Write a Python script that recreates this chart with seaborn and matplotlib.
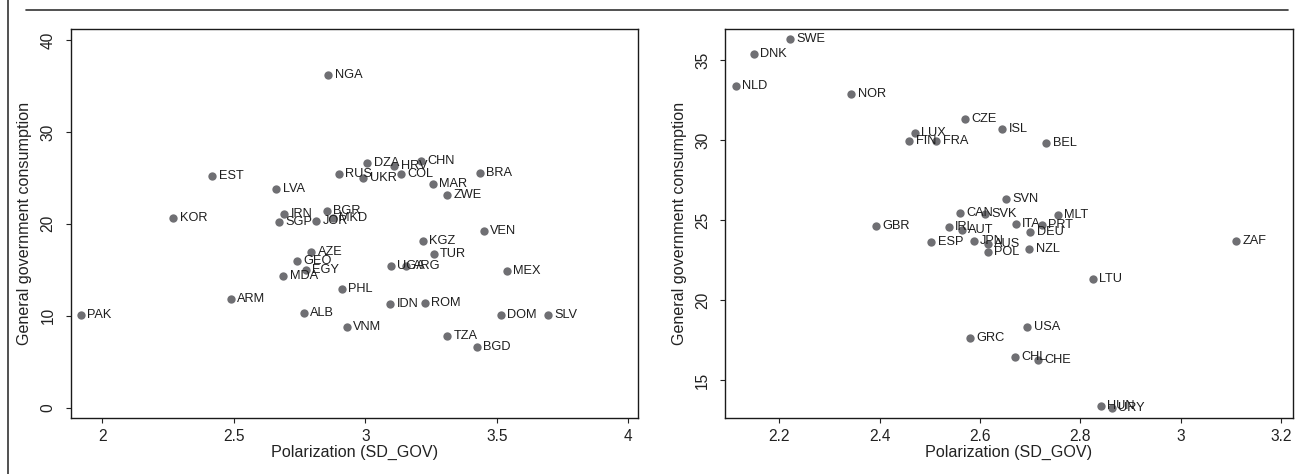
import pandas as pd
import seaborn as sns
import matplotlib.pyplot as plt
from matplotlib.lines import Line2D
from matplotlib.ticker import FormatStrFormatter

# left panel: non-OECD countries
dev_codes = ["PAK", "KOR", "EST", "ARM", "LVA", "SGP", "MDA", "IRN", "GEO", "ALB",
             "EGY", "AZE", "JOR", "BGR", "NGA", "MKD", "RUS", "PHL", "VNM", "UKR",
             "DZA", "IDN", "UGA", "HRV", "COL", "ARG", "CHN", "KGZ", "ROM", "MAR",
             "TUR", "ZWE", "TZA", "BGD", "BRA", "VEN", "DOM", "MEX", "SLV"]
dev_polar = [1.918, 2.270, 2.418, 2.488, 2.662, 2.672, 2.689, 2.691, 2.742, 2.766,
             2.774, 2.795, 2.814, 2.853, 2.860, 2.876, 2.899, 2.910, 2.929, 2.992,
             3.008, 3.095, 3.097, 3.110, 3.135, 3.156, 3.213, 3.218, 3.226, 3.256,
             3.260, 3.311, 3.312, 3.424, 3.435, 3.451, 3.515, 3.539, 3.693]
dev_gov = [10.13, 20.59, 25.24, 11.80, 23.79, 20.20, 14.35, 21.10, 16.01, 10.35,
           15.00, 16.93, 20.34, 21.43, 36.20, 20.59, 25.38, 12.90, 8.82, 25.02,
           26.60, 11.30, 15.40, 26.25, 25.42, 15.45, 26.80, 18.13, 11.44, 24.34,
           16.67, 23.14, 7.84, 6.65, 25.49, 19.25, 10.06, 14.89, 10.06]

# right panel: OECD countries
oecd_codes = ["NLD", "DNK", "SWE", "NOR", "GBR", "FIN", "LUX", "ESP", "FRA", "IRL",
              "CAN", "AUT", "CZE", "GRC", "JPN", "SVK", "AUS", "POL", "ISL", "SVN",
              "CHL", "ITA", "USA", "NZL", "DEU", "CHE", "PRT", "BEL", "MLT", "LTU",
              "HUN", "URY", "ZAF"]
oecd_polar = [2.113, 2.149, 2.221, 2.343, 2.392, 2.459, 2.470, 2.503, 2.513, 2.538,
              2.560, 2.564, 2.569, 2.579, 2.587, 2.609, 2.615, 2.615, 2.644, 2.652,
              2.669, 2.671, 2.694, 2.698, 2.700, 2.715, 2.723, 2.732, 2.755, 2.825,
              2.841, 2.863, 3.110]
oecd_gov = [33.38, 35.38, 36.29, 32.88, 24.64, 29.96, 30.44, 23.64, 29.96, 24.58,
            25.44, 24.38, 31.31, 17.64, 23.71, 25.36, 23.50, 22.98, 30.69, 26.29,
            16.44, 24.77, 18.29, 23.21, 24.25, 16.25, 24.69, 29.79, 25.29, 21.33,
            13.39, 13.23, 23.70]

left_xticks = [2, 2.5, 3, 3.5, 4]
left_yticks = [0, 10, 20, 30, 40]
right_xticks = [2.2, 2.4, 2.6, 2.8, 3, 3.2]
right_yticks = [15, 20, 25, 30, 35]

sns.set_theme(style="white")
plt.rcParams["font.family"] = ["Liberation Sans", "DejaVu Sans"]

W, H = 1298, 474
fig = plt.figure(figsize=(W / 100, H / 100), dpi=100)
ax1 = fig.add_axes([70.7 / W, 1 - 417.7 / H, (638.3 - 70.7) / W, (417.7 - 29.3) / H])
ax2 = fig.add_axes([725.3 / W, 1 - 417.7 / H, (1292.5 - 725.3) / W, (417.7 - 29.3) / H])


def panel(ax, codes, xs, ys, xlim, ylim, xticks, yticks):
    df = pd.DataFrame({"code": codes, "polar": xs, "gov": ys})
    sns.scatterplot(data=df, x="polar", y="gov", ax=ax, color="#6f6f73",
                    s=36, linewidth=0, legend=False, zorder=3)
    for _, r in df.iterrows():
        ax.annotate(r["code"], (r["polar"], r["gov"]), xytext=(4.6, 0),
                    textcoords="offset points", ha="left", va="center",
                    fontsize=9.2, color="#1e1e1e", zorder=4)
    ax.set_xlim(*xlim)
    ax.set_ylim(*ylim)
    ax.set_xticks(xticks)
    ax.set_yticks(yticks)
    ax.xaxis.set_major_formatter(FormatStrFormatter("%g"))
    ax.yaxis.set_major_formatter(FormatStrFormatter("%g"))
    ax.tick_params(axis="both", direction="out", length=3.8, width=0.8,
                   color="#222222", labelsize=11.2, labelcolor="#222222",
                   left=True, bottom=True, pad=4)
    ax.tick_params(axis="y", pad=7)
    plt.setp(ax.get_yticklabels(), rotation=90, va="center")
    for sp in ax.spines.values():
        sp.set_visible(True)
        sp.set_color("#1a1a1a")
        sp.set_linewidth(1.0)
    ax.set_xlabel("Polarization (SD_GOV)", fontsize=11.6, color="#222222", labelpad=1)
    ax.set_ylabel("General government consumption", fontsize=11.6,
                  color="#222222", labelpad=6)


panel(ax1, dev_codes, dev_polar, dev_gov, (1.88, 4.038), (-1.09, 41.16),
      left_xticks, left_yticks)
panel(ax2, oecd_codes, oecd_polar, oecd_gov, (2.092, 3.223), (12.64, 36.92),
      right_xticks, right_yticks)

# page border lines seen in the source image
fig.add_artist(Line2D([8 / W, 8 / W], [0, 1], transform=fig.transFigure,
                      color="#333333", lw=1.2))
fig.add_artist(Line2D([26 / W, 1288 / W], [1 - 10 / H, 1 - 10 / H],
                      transform=fig.transFigure, color="#333333", lw=1.2))

fig.savefig("out.png", dpi=100)
